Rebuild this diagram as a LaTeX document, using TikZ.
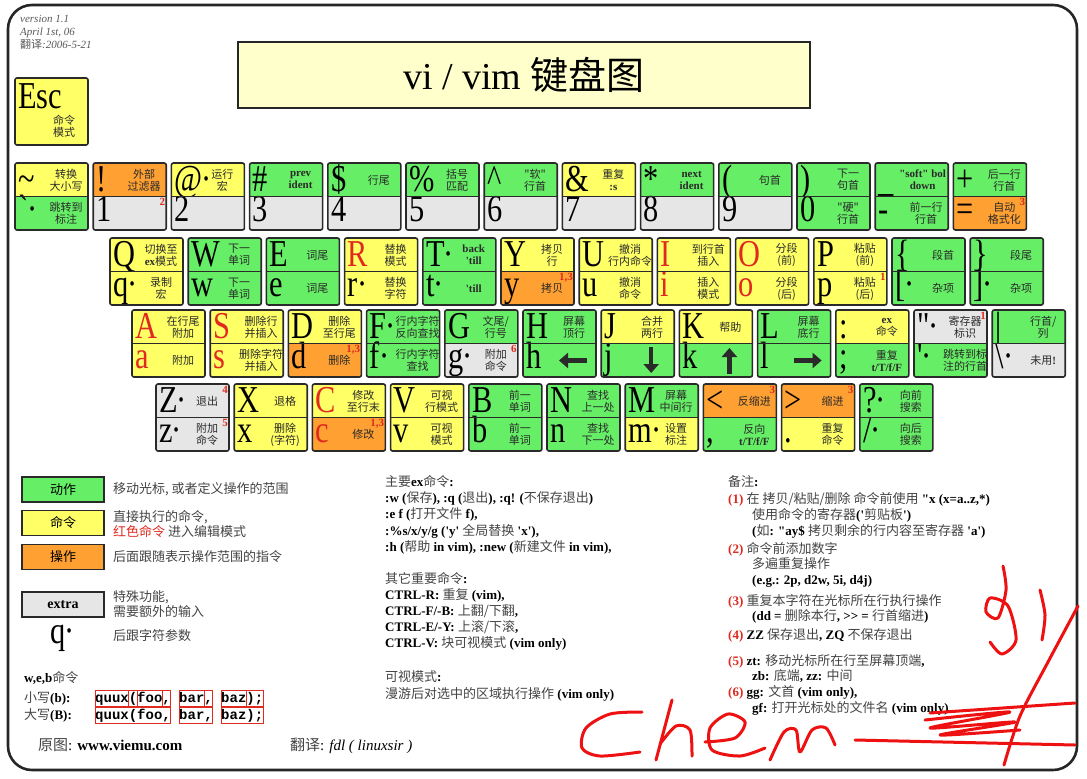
\documentclass[tikz,border=0pt]{standalone}
\usepackage{fontspec}
\setmainfont{Liberation Serif}
\setmonofont{Liberation Mono}
\newfontfamily\cjk{Noto Sans CJK SC}
\usetikzlibrary{arrows.meta}
\definecolor{movec}{HTML}{66EE66}
\definecolor{cmdc}{HTML}{FFFF66}
\definecolor{opc}{HTML}{FFA033}
\definecolor{extc}{HTML}{E6E6E6}
\definecolor{vred}{HTML}{E02A20}
\definecolor{titlec}{HTML}{FFFFCC}
\definecolor{inkc}{HTML}{2A2A2A}
\definecolor{zhc}{HTML}{444444}
\definecolor{penc}{HTML}{EE1111}
\tikzset{
  keyline/.style={draw=inkc,line width=1.6pt,rounded corners=2pt},
  bigch/.style={anchor=base west,inner sep=0pt,text height=25pt,text depth=3pt,font=\fontsize{38}{38}\selectfont},
  desc/.style={align=center,inner sep=0pt,font=\cjk\fontsize{11}{12}\selectfont,text=inkc},
  knote/.style={anchor=north east,inner sep=0pt,font=\bfseries\fontsize{11}{11}\selectfont,text=vred},
  harrow/.style={line width=4.5pt,inkc,-{Triangle[length=9pt,width=15pt]}},
  legbox/.style={draw=inkc,line width=1.4pt,minimum width=82pt,minimum height=25pt,inner sep=0pt,font=\cjk\fontsize{13}{13}\selectfont},
  lgtxt/.style={anchor=west,align=left,inner sep=0pt,font=\cjk\fontsize{13}{15.5}\selectfont,text=zhc},
  txt/.style={anchor=base west,inner sep=0pt,font=\bfseries\fontsize{13}{15}\selectfont,text=black},
  codebox/.style={draw=vred,line width=0.9pt},
  scrib/.style={draw=penc,line width=3pt,line cap=round,line join=round}
}
\newcommand{\bc}[1]{\scalebox{0.8}[1]{#1}}
\newcommand{\zh}[1]{{\cjk\mdseries\color{zhc}#1}}
\newcommand{\lat}[1]{{\rmfamily\bfseries #1}}
\newcommand{\rd}[1]{\textcolor{vred}{#1}}
\newcommand{\dq}{\textquotedbl}
\newcommand{\sq}{\textquotesingle}
\newcommand{\cdt}{\kern-1pt·}
% top half of a key: name, column, fill, char, text, note
\newcommand{\kt}[6]{%
  \fill[#3] (\rx+#2*78.2,\ry) rectangle ++(73,33.5);
  \node[bigch] (#1-c) at (\rx+#2*78.2+3,\ry+28) {\bc{#4}};
  \node[desc] (#1-d) at (\rx+#2*78.2+51,\ry+17) {#5};
  \node[knote] (#1-n) at (\rx+#2*78.2+72,\ry+2) {#6};}
% bottom half of a key, then the key frame
\newcommand{\kb}[6]{%
  \fill[#3] (\rx+#2*78.2,\ry+33.5) rectangle ++(73,33.5);
  \node[bigch] (#1-c) at (\rx+#2*78.2+3,\ry+58.5) {\bc{#4}};
  \node[desc] (#1-d) at (\rx+#2*78.2+51,\ry+50.5) {#5};
  \node[knote] (#1-n) at (\rx+#2*78.2+72,\ry+35.5) {#6};
  \draw[keyline] (\rx+#2*78.2,\ry) rectangle ++(73,67);
  \draw[keyline,rounded corners=0pt] (\rx+#2*78.2,\ry+33.5) -- ++(73,0);}

\begin{document}
\begin{tikzpicture}[x=1pt,y=-1pt]
\useasboundingbox (0,0) rectangle (1087,779);
\fill[white] (0,0) rectangle (1087,779);
\draw[line width=2.6pt,rounded corners=24pt,draw=black!85] (8,5) rectangle (1077,770);
\node[anchor=base west,inner sep=0pt,font=\itshape\fontsize{11}{11}\selectfont,text=black!65] (ver1) at (20,22) {version 1.1};
\node[anchor=base west,inner sep=0pt,font=\itshape\fontsize{11}{11}\selectfont,text=black!65] (ver2) at (20,35) {April 1st, 06};
\node[anchor=base west,inner sep=0pt,font=\itshape\fontsize{11}{11}\selectfont,text=black!65] (ver3) at (20,48) {{\cjk 翻译}:2006-5-21};
\node[draw=black!85,line width=2.6pt,fill=titlec,minimum width=572pt,minimum height=66pt,font=\fontsize{38}{38}\selectfont] (title) at (524,75) {vi / vim {\cjk 键盘图}};
\fill[cmdc] (15,78) rectangle (88,145);
\draw[keyline] (15,78) rectangle (88,145);
\node[bigch] (esc-c) at (18,108) {\bc{Esc}};
\node[desc] (esc-d) at (64,126) {命令\\模式};

\def\rx{15}\def\ry{163}
\kt{tilde}{0}{cmdc}{\textasciitilde}{转换\\大小写}{}
\kb{grave}{0}{movec}{\textasciigrave\cdt}{跳转到\\标注}{}
\kt{bang}{1}{opc}{!}{外部\\过滤器}{}
\kb{one}{1}{extc}{1}{}{2}
\kt{at}{2}{cmdc}{@\cdt}{运行\\宏}{}
\kb{two}{2}{extc}{2}{}{}
\kt{hash}{3}{movec}{\#}{\lat{prev}\\\lat{ident}}{}
\kb{three}{3}{extc}{3}{}{}
\kt{dollar}{4}{movec}{\$}{行尾}{}
\kb{four}{4}{extc}{4}{}{}
\kt{pct}{5}{movec}{\%}{括号\\匹配}{}
\kb{five}{5}{extc}{5}{}{}
\kt{caret}{6}{movec}{\textasciicircum}{"软"\\行首}{}
\kb{six}{6}{extc}{6}{}{}
\kt{amp}{7}{cmdc}{\&}{重复\\\lat{:s}}{}
\kb{seven}{7}{extc}{7}{}{}
\kt{star}{8}{movec}{*}{\lat{next}\\\lat{ident}}{}
\kb{eight}{8}{extc}{8}{}{}
\kt{lpar}{9}{movec}{(}{句首}{}
\kb{nine}{9}{extc}{9}{}{}
\kt{rpar}{10}{movec}{)}{下一\\句首}{}
\kb{zero}{10}{movec}{0}{"硬"\\行首}{}
\kt{under}{11}{movec}{\_}{}{}
\node[desc,anchor=east] (under-t) at (\rx+11*78.2+71,\ry+17) {\lat{\dq soft\dq\ bol}\\\lat{down}};
\kb{minus}{11}{movec}{-}{前一行\\行首}{}
\kt{plus}{12}{movec}{+}{后一行\\行首}{}
\kb{equal}{12}{opc}{=}{自动\\格式化}{3}

\def\rx{110}\def\ry{238}
\kt{Q}{0}{cmdc}{Q}{切换至\\\lat{ex}模式}{}
\kb{q}{0}{cmdc}{q\cdt}{录制\\宏}{}
\kt{W}{1}{movec}{W}{下一\\单词}{}
\kb{w}{1}{movec}{w}{下一\\单词}{}
\kt{E}{2}{movec}{E}{词尾}{}
\kb{e}{2}{movec}{e}{词尾}{}
\kt{R}{3}{cmdc}{\rd{R}}{替换\\模式}{}
\kb{r}{3}{cmdc}{r\cdt}{替换\\字符}{}
\kt{T}{4}{movec}{T\cdt}{\lat{back}\\\lat{\sq till}}{}
\kb{t}{4}{movec}{t\cdt}{\lat{\sq till}}{}
\kt{Y}{5}{cmdc}{Y}{拷贝\\行}{}
\kb{y}{5}{opc}{y}{拷贝}{1,3}
\kt{U}{6}{cmdc}{U}{撤消\\行内命令}{}
\kb{u}{6}{cmdc}{u}{撤消\\命令}{}
\kt{I}{7}{cmdc}{\rd{I}}{到行首\\插入}{}
\kb{i}{7}{cmdc}{\rd{i}}{插入\\模式}{}
\kt{O}{8}{cmdc}{\rd{O}}{分段\\(前)}{}
\kb{o}{8}{cmdc}{\rd{o}}{分段\\(后)}{}
\kt{P}{9}{cmdc}{P}{粘贴\\(前)}{}
\kb{p}{9}{cmdc}{p}{粘贴\\(后)}{1}
\kt{lbrace}{10}{movec}{\{}{段首}{}
\kb{lbrack}{10}{movec}{[\cdt}{杂项}{}
\kt{rbrace}{11}{movec}{\}}{段尾}{}
\kb{rbrack}{11}{movec}{]\cdt}{杂项}{}

\def\rx{132}\def\ry{310}
\kt{A}{0}{cmdc}{\rd{A}}{在行尾\\附加}{}
\kb{a}{0}{cmdc}{\rd{a}}{附加}{}
\kt{S}{1}{cmdc}{\rd{S}}{删除行\\并插入}{}
\kb{s}{1}{cmdc}{\rd{s}}{删除字符\\并插入}{}
\kt{D}{2}{cmdc}{D}{删除\\至行尾}{}
\kb{d}{2}{opc}{d}{删除}{1,3}
\kt{F}{3}{movec}{F\cdt}{行内字符\\反向查找}{}
\kb{f}{3}{movec}{f\cdt}{行内字符\\查找}{}
\kt{G}{4}{movec}{G}{文尾/\\行号}{}
\kb{g}{4}{extc}{g\cdt}{附加\\命令}{6}
\kt{H}{5}{movec}{H}{屏幕\\顶行}{}
\kb{h}{5}{movec}{h}{}{}
\kt{J}{6}{cmdc}{J}{合并\\两行}{}
\kb{j}{6}{movec}{j}{}{}
\kt{K}{7}{cmdc}{K}{帮助}{}
\kb{k}{7}{movec}{k}{}{}
\kt{L}{8}{movec}{L}{屏幕\\底行}{}
\kb{l}{8}{movec}{l}{}{}
\kt{colon}{9}{cmdc}{:}{\lat{ex}\\命令}{}
\kb{semi}{9}{movec}{;}{重复\\\lat{t/T/f/F}}{}
\kt{quote}{10}{extc}{\dq\cdt}{寄存器\\标识}{1}
\kb{apos}{10}{movec}{\sq\cdt}{跳转到标\\注的行首}{}
\kt{bar}{11}{movec}{|}{行首/\\列}{}
\kb{bslash}{11}{extc}{\textbackslash\cdt}{未用\lat{!}}{}
\draw[harrow] (\rx+5*78.2+64,\ry+50.5) -- ++(-28,0);
\draw[harrow] (\rx+6*78.2+50,\ry+37) -- ++(0,26);
\draw[harrow] (\rx+7*78.2+50,\ry+64) -- ++(0,-26);
\draw[harrow] (\rx+8*78.2+36,\ry+50.5) -- ++(28,0);

\def\rx{156}\def\ry{384}
\kt{Z}{0}{extc}{Z\cdt}{退出}{4}
\kb{z}{0}{extc}{z\cdt}{附加\\命令}{5}
\kt{X}{1}{cmdc}{X}{退格}{}
\kb{x}{1}{cmdc}{x}{删除\\(字符)}{}
\kt{C}{2}{cmdc}{\rd{C}}{修改\\至行末}{}
\kb{c}{2}{opc}{\rd{c}}{修改}{1,3}
\kt{V}{3}{cmdc}{V}{可视\\行模式}{}
\kb{v}{3}{cmdc}{v}{可视\\模式}{}
\kt{B}{4}{movec}{B}{前一\\单词}{}
\kb{b}{4}{movec}{b}{前一\\单词}{}
\kt{N}{5}{movec}{N}{查找\\上一处}{}
\kb{n}{5}{movec}{n}{查找\\下一处}{}
\kt{M}{6}{movec}{M}{屏幕\\中间行}{}
\kb{m}{6}{cmdc}{m\cdt}{设置\\标注}{}
\kt{lt}{7}{opc}{<}{反缩进}{3}
\kb{comma}{7}{movec}{,}{反向\\\lat{t/T/f/F}}{}
\kt{gt}{8}{opc}{>}{缩进}{3}
\kb{dot}{8}{cmdc}{.}{重复\\命令}{}
\kt{qmark}{9}{movec}{?\cdt}{向前\\搜索}{}
\kb{slash}{9}{movec}{/\cdt}{向后\\搜索}{}

\node[legbox,fill=movec] (lg-move) at (63,489.5) {动作};
\node[lgtxt] (lg-movet) at (113,489.5) {移动光标, 或者定义操作的范围};
\node[legbox,fill=cmdc] (lg-cmd) at (63,523) {命令};
\node[lgtxt] (lg-cmdt) at (113,524) {直接执行的命令,\\\textcolor{vred}{红色命令} 进入编辑模式};
\node[legbox,fill=opc] (lg-op) at (63,557) {操作};
\node[lgtxt] (lg-opt) at (113,557) {后面跟随表示操作范围的指令};
\node[legbox,fill=extc,font=\bfseries\fontsize{14}{14}\selectfont] (lg-ext) at (63,604.5) {extra};
\node[lgtxt] (lg-extt) at (113,604) {特殊功能,\\需要额外的输入};
\node[bigch] (lg-q) at (50,643) {\bc{q\cdt}};
\node[lgtxt] (lg-qt) at (113,636) {后跟字符参数};
\node[txt] (web) at (24,682) {w,e,b\zh{命令}};
\node[txt] (lowc) at (24,702) {\zh{小写}(b):};
\node[txt] (upc) at (24,719) {\zh{大写}(B):};
\node[txt,font=\ttfamily\bfseries\fontsize{14}{14}\selectfont] (lowq) at (95,702) {quux(foo, bar, baz);};
\node[txt,font=\ttfamily\bfseries\fontsize{14}{14}\selectfont] (upq) at (95,719) {quux(foo, bar, baz);};
\foreach \a/\b in {0/4,4/5,5/8,8/9,10/13,13/14,15/18,18/20}
  \draw[codebox] (95+\a*8.4,690) rectangle (95+\b*8.4,706);
\foreach \a/\b in {0/9,10/14,15/20}
  \draw[codebox] (95+\a*8.4,707) rectangle (95+\b*8.4,723);

\node[txt] (ex0) at (385,486) {\zh{主要}ex\zh{命令}:};
\node[txt] (ex1) at (385,502) {:w (\zh{保存}), :q (\zh{退出}), :q! (\zh{不保存退出})};
\node[txt] (ex2) at (385,518) {:e f (\zh{打开文件} f),};
\node[txt] (ex3) at (385,535) {:\%s/x/y/g (\sq y\sq\ \zh{全局替换} \sq x\sq),};
\node[txt] (ex4) at (385,551) {:h (\zh{帮助} in vim), :new (\zh{新建文件} in vim),};
\node[txt] (ot0) at (385,583) {\zh{其它重要命令}:};
\node[txt] (ot1) at (385,599) {CTRL-R: \zh{重复} (vim),};
\node[txt] (ot2) at (385,615) {CTRL-F/-B: \zh{上翻/下翻},};
\node[txt] (ot3) at (385,631) {CTRL-E/-Y: \zh{上滚/下滚},};
\node[txt] (ot4) at (385,647) {CTRL-V: \zh{块可视模式} (vim only)};
\node[txt] (vi0) at (385,681) {\zh{可视模式}:};
\node[txt] (vi1) at (385,698) {\zh{漫游后对选中的区域执行操作} (vim only)};

\node[txt] (nt0) at (728,486) {\zh{备注}:};
\node[txt] (nt1) at (728,503) {\rd{(1)} \zh{在 拷贝/粘贴/删除 命令前使用} \dq x (x=a..z,*)};
\node[txt] (nt1b) at (752,519) {\zh{使用命令的寄存器}(\sq\zh{剪贴板}\sq)};
\node[txt] (nt1c) at (752,535) {(\zh{如}: \dq ay\$ \zh{拷贝剩余的行内容至寄存器} \sq a\sq)};
\node[txt] (nt2) at (728,553) {\rd{(2)} \zh{命令前添加数字}};
\node[txt] (nt2b) at (752,568) {\zh{多遍重复操作}};
\node[txt] (nt2c) at (752,584) {(e.g.: 2p, d2w, 5i, d4j)};
\node[txt] (nt3) at (728,605) {\rd{(3)} \zh{重复本字符在光标所在行执行操作}};
\node[txt] (nt3b) at (752,620) {(dd = \zh{删除本行}, >{}> = \zh{行首缩进})};
\node[txt] (nt4) at (728,639) {\rd{(4)} ZZ \zh{保存退出}, ZQ \zh{不保存退出}};
\node[txt] (nt5) at (728,665) {\rd{(5)} zt: \zh{移动光标所在行至屏幕顶端},};
\node[txt] (nt5b) at (752,680) {zb: \zh{底端}, zz: \zh{中间}};
\node[txt] (nt6) at (728,696) {\rd{(6)} gg: \zh{文首} (vim only),};
\node[txt] (nt6b) at (752,712) {gf: \zh{打开光标处的文件名} (vim only)};

\node[txt,font=\fontsize{15}{15}\selectfont] (src) at (38,750) {\zh{原图}: \textbf{www.viemu.com}};
\node[txt,font=\fontsize{15}{15}\selectfont] (trn) at (290,750) {\zh{翻译}: \textit{fdl ( linuxsir )}};

\draw[scrib] plot[smooth] coordinates {(642,712) (610,714) (586,728) (582,748) (600,756) (640,752)};
\draw[scrib] plot[smooth] coordinates {(672,700) (664,730) (656,760)};
\draw[scrib] plot[smooth] coordinates {(660,744) (676,726) (690,730) (692,756)};
\draw[scrib] plot[smooth] coordinates {(705,742) (735,738) (745,722) (728,714) (710,728) (712,750) (740,756) (765,748)};
\draw[scrib] plot[smooth] coordinates {(770,760) (784,732) (796,730) (800,752) (812,730) (826,728) (835,745)};
\draw[scrib] plot[smooth] coordinates {(1003,566) (1006,590) (998,618) (986,612) (990,598) (1008,606) (1016,640) (1002,654) (990,642)};
\draw[scrib] plot[smooth] coordinates {(1040,590) (1045,615) (1042,640)};
\draw[scrib] plot[smooth] coordinates {(1078,606) (1048,662) (1020,716) (1004,765)};
\draw[scrib] (855,740) -- (1075,745);
\draw[scrib] (930,713) -- (1075,703);
\draw[scrib] plot[smooth] coordinates {(925,720) (1010,712) (930,728) (1015,722) (940,735) (1020,730)};
\end{tikzpicture}
\end{document}
